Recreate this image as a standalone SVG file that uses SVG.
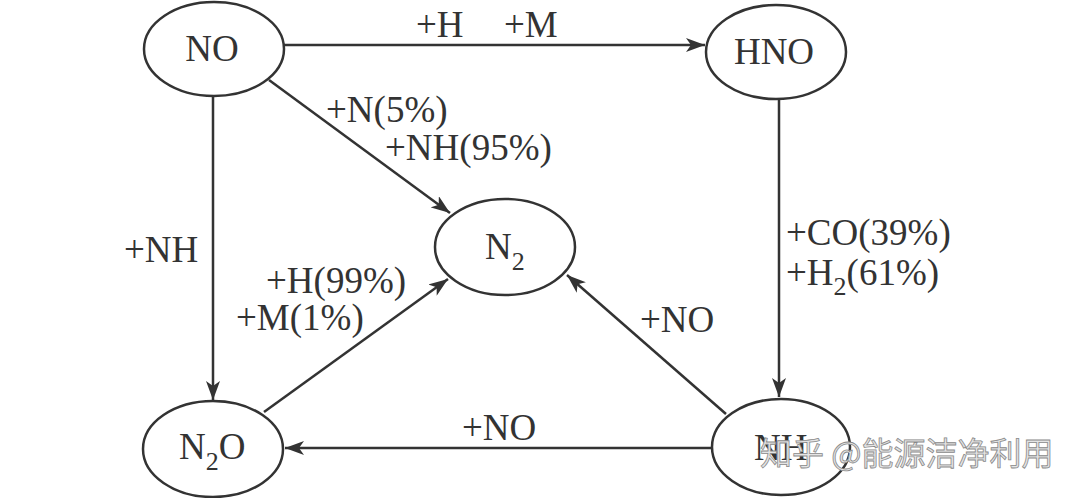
<svg xmlns="http://www.w3.org/2000/svg" width="1080" height="498" viewBox="0 0 1080 498">
<style>
.node ellipse{fill:#fff;stroke:#333;stroke-width:2.5}
text{font-family:"Liberation Serif","Times New Roman",serif;fill:#333}
.lbl{font-size:37px}
.sub{font-size:26px}
.edge{stroke:#333;stroke-width:2.5;fill:none;marker-end:url(#ah)}
.wm{font-family:"Noto Sans CJK SC","Noto Sans",sans-serif;font-size:32px;fill:#e4e4e4;stroke:#8a8a8a;stroke-width:0.8}
</style>
<defs>
<marker id="ah" markerUnits="userSpaceOnUse" markerWidth="20" markerHeight="14" refX="19" refY="7" orient="auto">
<path d="M0,0 L19,7 L0,14 L5,7 z" fill="#333"/>
</marker>
</defs>
<rect width="1080" height="498" fill="#fff"/>
<g id="connectors">
<line class="edge" x1="284" y1="45" x2="705" y2="45"/>
<line class="edge" x1="269" y1="80" x2="450" y2="213"/>
<line class="edge" x1="213" y1="97" x2="213" y2="400"/>
<line class="edge" x1="779" y1="99" x2="779" y2="397"/>
<line class="edge" x1="264" y1="412" x2="448" y2="279"/>
<line class="edge" x1="726" y1="414" x2="567" y2="275"/>
<line class="edge" x1="712" y1="448" x2="285" y2="448"/>
</g>
<g id="labels" class="lbl">
<text x="416" y="37" class="lbl">+H</text>
<text x="504" y="37" class="lbl">+M</text>
<text x="326" y="122" class="lbl">+N(5%)</text>
<text x="385" y="160" class="lbl">+NH(95%)</text>
<text x="124" y="262" class="lbl">+NH</text>
<text x="266" y="293" class="lbl">+H(99%)</text>
<text x="236" y="330" class="lbl">+M(1%)</text>
<text x="786" y="245" class="lbl">+CO(39%)</text>
<text x="786" y="285" class="lbl">+H<tspan class="sub" dy="10">2</tspan><tspan dy="-10">(61%)</tspan></text>
<text x="640" y="332" class="lbl">+NO</text>
<text x="462" y="440" class="lbl">+NO</text>
</g>
<g id="node-NO" class="node">
<ellipse cx="214" cy="49" rx="70" ry="47"/>
<text x="212" y="61" class="lbl" text-anchor="middle">NO</text>
</g>
<g id="node-HNO" class="node">
<ellipse cx="776" cy="52" rx="70" ry="47"/>
<text x="774" y="64" class="lbl" text-anchor="middle">HNO</text>
</g>
<g id="node-N2" class="node">
<ellipse cx="505" cy="247" rx="70" ry="48"/>
<text x="485" y="259" class="lbl">N<tspan class="sub" dy="11">2</tspan></text>
</g>
<g id="node-N2O" class="node">
<ellipse cx="213" cy="449" rx="70" ry="48"/>
<text x="179" y="459" class="lbl">N<tspan class="sub" dy="11">2</tspan><tspan dy="-11">O</tspan></text>
</g>
<g id="node-NH" class="node">
<ellipse cx="781" cy="447" rx="69" ry="48"/>
<text x="754" y="460" class="lbl">NH</text>
</g>
<text x="760" y="465" class="wm">知乎 @能源洁净利用</text>
</svg>
